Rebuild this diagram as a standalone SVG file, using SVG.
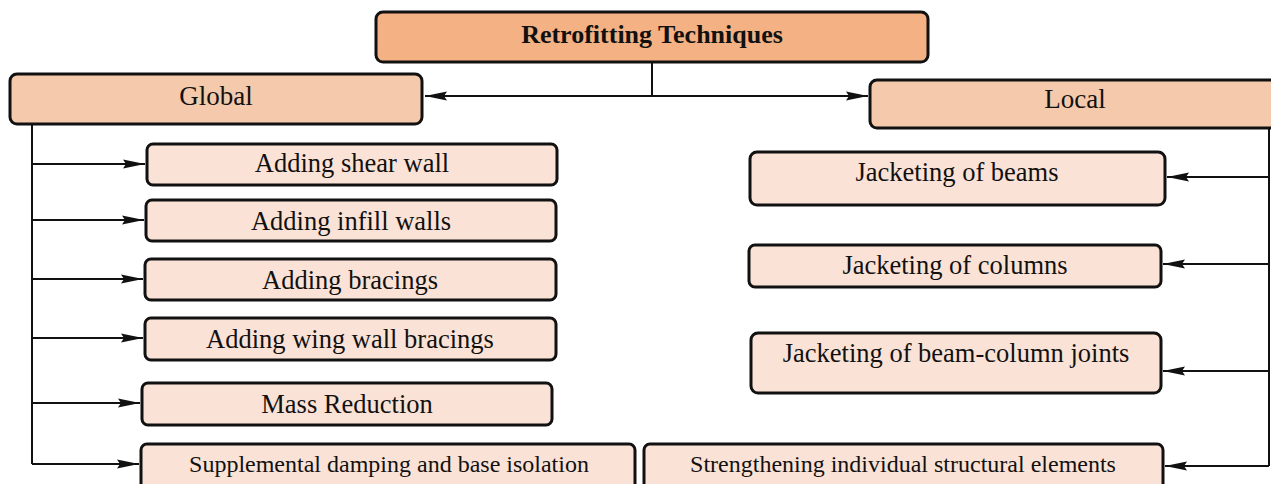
<svg xmlns="http://www.w3.org/2000/svg" width="1271" height="484" viewBox="0 0 1271 484">
<defs>
<style>
.box{stroke:#111;stroke-width:3;}
.t0{fill:#F4B183;}
.t1{fill:#F5C9AB;}
.t2{fill:#FBE2D6;}
text{font-family:"Liberation Serif","Times New Roman",serif;fill:#111;text-anchor:middle;}
.lg{font-size:27px;}
.md{font-size:26.5px;}
.sm{font-size:24px;}
.ttl{font-size:26px;font-weight:bold;}
.c{fill:none;stroke:#111;stroke-width:2;}
</style>
<marker id="ah" viewBox="0 0 22 10" refX="22" refY="5" markerWidth="22" markerHeight="10" markerUnits="userSpaceOnUse" orient="auto-start-reverse">
<path d="M0,0.5 L22,5 L0,9.5 L3,5 Z" fill="#111"/>
</marker>
</defs>
<rect width="1271" height="484" fill="#fff"/>
<g id="connectors">
<path class="c" d="M652,62 V96"/>
<path class="c" d="M425,96 H868" marker-start="url(#ah)" marker-end="url(#ah)"/>
<path class="c" d="M32,124 V464"/>
<path class="c" d="M32,164 H145" marker-end="url(#ah)"/>
<path class="c" d="M32,220 H144" marker-end="url(#ah)"/>
<path class="c" d="M32,279 H143" marker-end="url(#ah)"/>
<path class="c" d="M32,338 H143" marker-end="url(#ah)"/>
<path class="c" d="M32,403 H140" marker-end="url(#ah)"/>
<path class="c" d="M32,464 H139" marker-end="url(#ah)"/>
<path class="c" d="M1269,128 V466"/>
<path class="c" d="M1269,177 H1167" marker-end="url(#ah)"/>
<path class="c" d="M1269,264 H1163" marker-end="url(#ah)"/>
<path class="c" d="M1269,371 H1163" marker-end="url(#ah)"/>
<path class="c" d="M1269,466 H1165" marker-end="url(#ah)"/>
</g>
<g id="title"><rect class="box t0" x="376" y="12" width="552" height="50" rx="7"/><text class="ttl" x="652" y="43">Retrofitting Techniques</text></g>
<g id="global"><rect class="box t1" x="10" y="74" width="412" height="50" rx="7"/><text class="lg" x="216" y="105">Global</text></g>
<g id="local"><rect class="box t1" x="870" y="80" width="420" height="48" rx="7"/><text class="lg" x="1075" y="108">Local</text></g>
<g id="shear"><rect class="box t2" x="147" y="144" width="410" height="41" rx="6"/><text class="md" x="352" y="172">Adding shear wall</text></g>
<g id="infill"><rect class="box t2" x="146" y="200" width="410" height="41" rx="6"/><text class="md" x="351" y="230">Adding infill walls</text></g>
<g id="bracings"><rect class="box t2" x="145" y="259" width="411" height="41" rx="6"/><text class="md" x="350" y="289">Adding bracings</text></g>
<g id="wing"><rect class="box t2" x="145" y="318" width="411" height="42" rx="6"/><text class="md" x="350" y="348">Adding wing wall bracings</text></g>
<g id="mass"><rect class="box t2" x="142" y="383" width="410" height="42" rx="6"/><text class="md" x="347" y="413">Mass Reduction</text></g>
<g id="damping"><rect class="box t2" x="141" y="444" width="494" height="50" rx="6"/><text class="sm" x="389" y="472">Supplemental damping and base isolation</text></g>
<g id="beams"><rect class="box t2" x="750" y="152" width="415" height="53" rx="7"/><text class="md" x="957" y="181">Jacketing of beams</text></g>
<g id="columns"><rect class="box t2" x="749" y="245" width="412" height="42" rx="6"/><text class="md" x="955" y="274">Jacketing of columns</text></g>
<g id="joints"><rect class="box t2" x="751" y="333" width="410" height="60" rx="7"/><text class="md" x="956" y="362">Jacketing of beam-column joints</text></g>
<g id="strengthening"><rect class="box t2" x="644" y="444" width="519" height="50" rx="6"/><text class="sm" x="903" y="472">Strengthening individual structural elements</text></g>
</svg>
